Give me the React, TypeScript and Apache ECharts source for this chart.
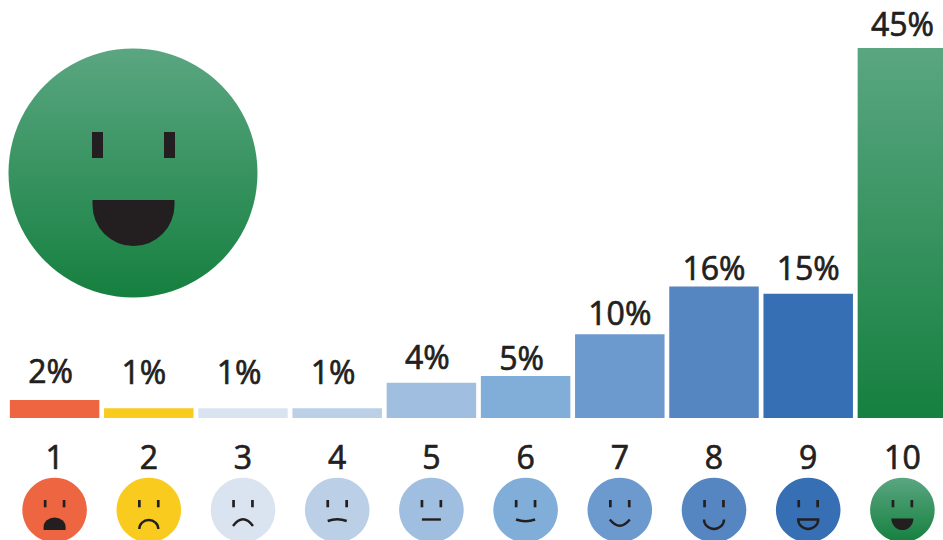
import React, { useEffect, useRef } from "react";
import * as echarts from "echarts";

const categories = ["1", "2", "3", "4", "5", "6", "7", "8", "9", "10"];
const shareValues = [2.2, 1.2, 1.2, 1.2, 4.3, 5.1, 10.2, 16, 15.1, 45];
const barColors = ["#ee6541", "#f9cb1f", "#dae4f1", "#bbcfe7", "#a0bedf", "#80aed8", "#6c9acf", "#5686c2", "#366fb3", ""];
const labelGaps = [13, 21, 21, 21, 10, 3, 6, 3, 10, 9];
const labelShifts = [-4, -5, -4, -4, -4, -4, 0, 0, 0, 0];

const INK = "#231f20";
const green = () =>
  new echarts.graphic.LinearGradient(0, 0, 0, 1, [
    { offset: 0, color: "#5aa681" },
    { offset: 1, color: "#15803f" },
  ]);

type Mouth = { d: string; filled: boolean };
const mouths: Mouth[] = [
  { d: "M-11 20V17A11 9.5 0 0 1 11 17V20Z", filled: true },
  { d: "M-9.5 19A9.5 9 0 0 1 9.5 19", filled: false },
  { d: "M-10 16Q0 2.5 10 16", filled: false },
  { d: "M-9.5 11Q0 7.5 9.5 11", filled: false },
  { d: "M-9.5 9.5H9.5", filled: false },
  { d: "M-9.5 9.5Q0 13 9.5 9.5", filled: false },
  { d: "M-10 9.5Q0 22 10 9.5", filled: false },
  { d: "M-10 9.5A10 9.5 0 0 0 10 9.5", filled: false },
  { d: "M-10 9.5H10A10 9.5 0 0 1 -10 9.5Z", filled: false },
  { d: "M-11 8.5H11A11 11.5 0 0 1 -11 8.5Z", filled: true },
];

echarts.graphic.registerShape(
  "bigMouth",
  echarts.graphic.extendPath("M92.5 200H174.5V205A41 41 0 0 1 92.5 205Z", {}) as any
);

const textLook = {
  fontSize: 32,
  fontWeight: 400,
  color: INK,
  fontFamily: "Open Sans",
  textBorderColor: INK,
  textBorderWidth: 0.7,
};

export default function App() {
  const ref = useRef<HTMLDivElement>(null);
  useEffect(() => {
    document.body.style.margin = "0";
    const chart = echarts.init(ref.current!, null, { renderer: "svg" });
    chart.setOption({
      animation: false,
      backgroundColor: "#ffffff",
      textStyle: { fontFamily: "Open Sans" },
      grid: { left: 7.5, width: 942, top: 48, height: 370, containLabel: false, outerBoundsMode: "none" },
      xAxis: {
        type: "category",
        data: categories,
        axisLine: { show: false },
        axisTick: { show: false },
        axisLabel: { interval: 0, margin: 22, ...textLook },
      },
      yAxis: { type: "value", min: 0, max: 45, show: false },
      graphic: {
        elements: [
          { type: "circle", shape: { cx: 133, cy: 173, r: 124.5 }, style: { fill: green() } },
          { type: "rect", shape: { x: 92, y: 132, width: 11, height: 26 }, style: { fill: INK } },
          { type: "rect", shape: { x: 164, y: 132, width: 11, height: 26 }, style: { fill: INK } },
          { type: "bigMouth", style: { fill: INK } },
        ],
      },
      series: [
        {
          type: "bar",
          barWidth: 89.5,
          data: shareValues.map((value, i) => ({
            value,
            itemStyle: { color: barColors[i] || green() },
            label: {
              show: true,
              position: "top",
              distance: labelGaps[i],
              offset: [labelShifts[i], 0],
              formatter: () => `${Math.round(value)}%`,
              ...textLook,
            },
          })),
        },
        {
          type: "custom",
          silent: true,
          data: categories.map((_, i) => [i, 0]),
          renderItem: (_params: any, api: any) => {
            const i = api.value(0);
            const p = api.coord([i, 0]);
            const cx = p[0];
            const cy = p[1] + 92;
            const m = mouths[i];
            return {
              type: "group",
              x: cx,
              y: cy,
              children: [
                { type: "circle", shape: { cx: 0, cy: 0, r: 32.3 }, style: { fill: barColors[i] || green() } },
                { type: "rect", shape: { x: -10.8, y: -10, width: 2.7, height: 7.3 }, style: { fill: INK } },
                { type: "rect", shape: { x: 8.1, y: -10, width: 2.7, height: 7.3 }, style: { fill: INK } },
                {
                  type: "path",
                  shape: { pathData: m.d },
                  style: m.filled
                    ? { fill: INK, stroke: null }
                    : { fill: "none", stroke: INK, lineWidth: 2.4 },
                },
              ],
            };
          },
        },
      ],
    });
    return () => chart.dispose();
  }, []);
  return <div ref={ref} style={{ width: 943, height: 540 }} />;
}
